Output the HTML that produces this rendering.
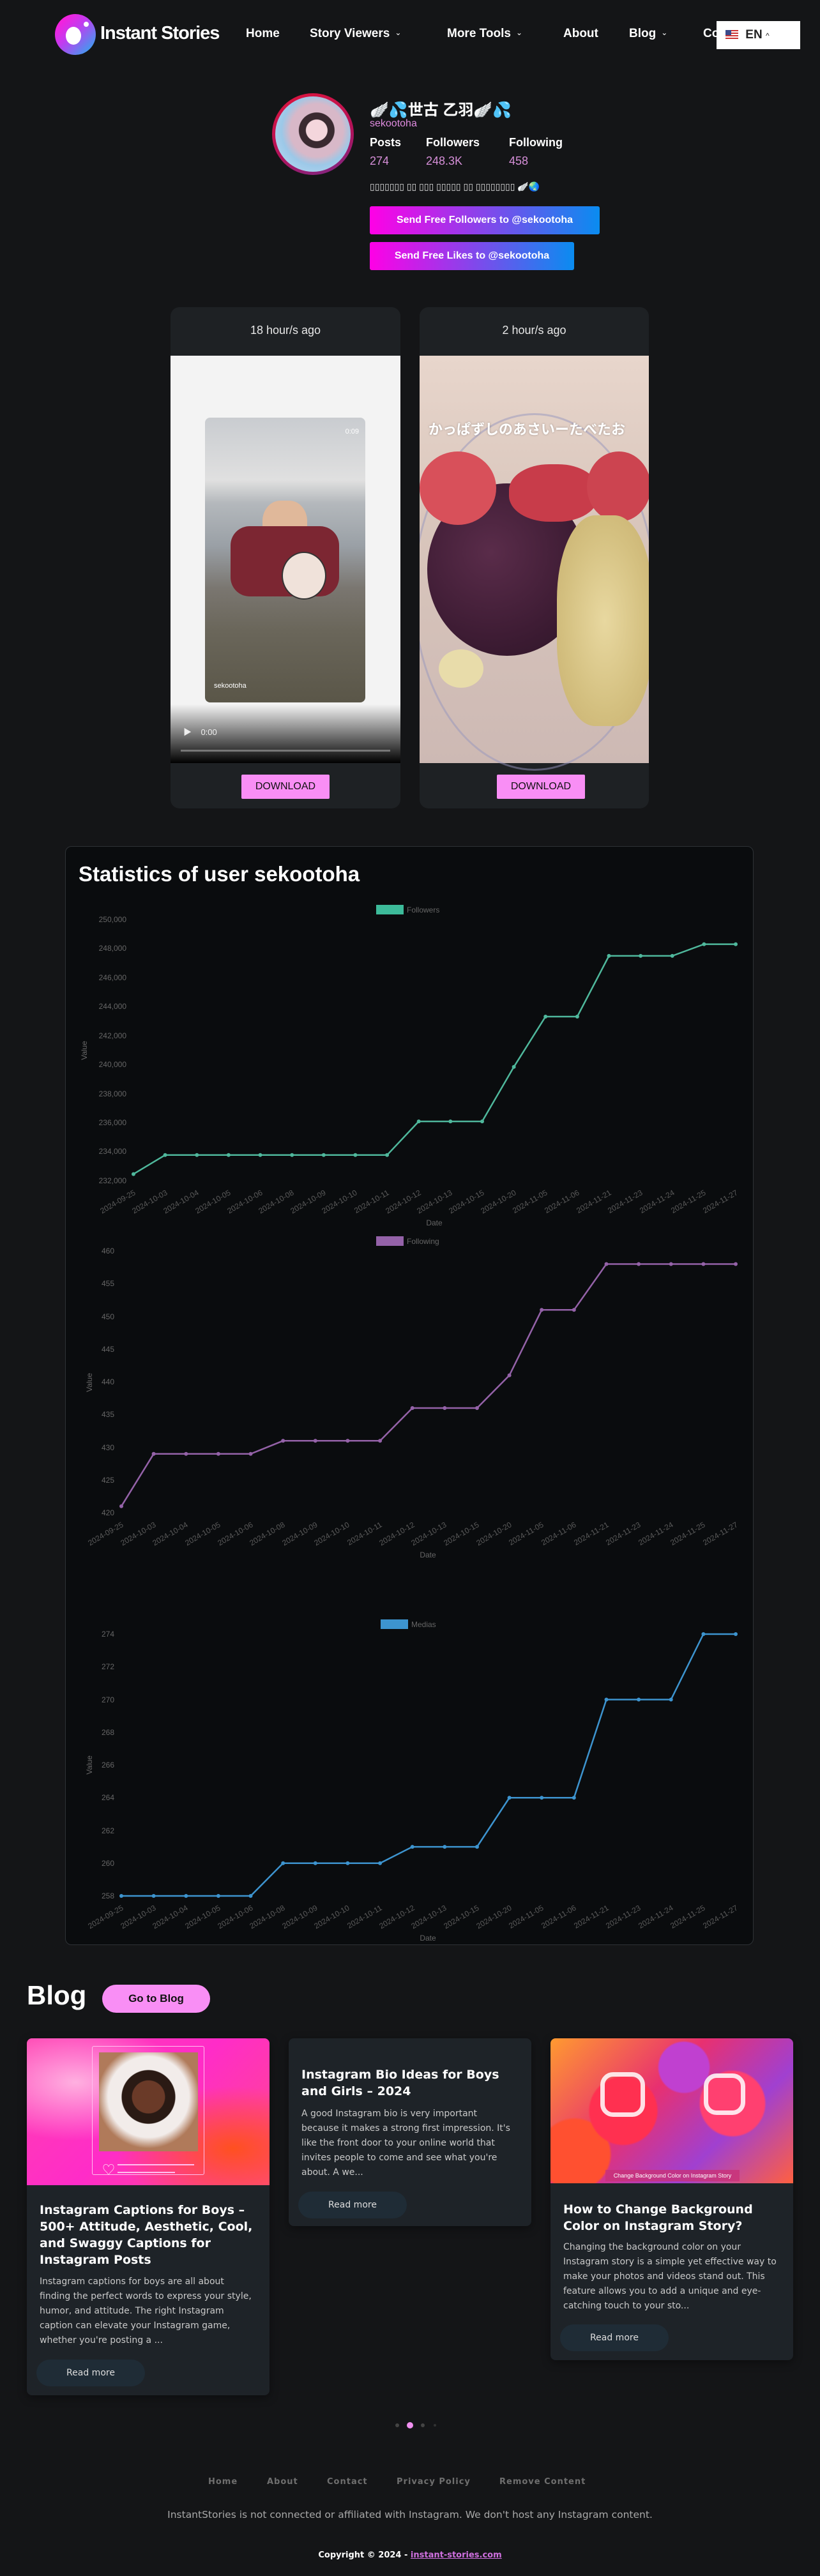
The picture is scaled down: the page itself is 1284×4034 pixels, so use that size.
<!DOCTYPE html>
<html><head><meta charset="utf-8">
<style>
*{margin:0;padding:0;box-sizing:border-box}
body{width:1284px;height:4034px;background:#141517;position:relative;overflow:hidden;font-family:"Liberation Sans","Noto Sans CJK JP",sans-serif;color:#fff}
.a{position:absolute}
.nav{font-weight:bold;font-size:19px;color:#fff;top:42px;white-space:nowrap}
.chev{font-size:12px;font-weight:normal;margin-left:8px;vertical-align:3px}
.card{background:#1e2124;border-radius:14px}
.dl{background:#f98ef5;color:#111;font-size:16px;text-align:center;line-height:38px;border-radius:2px}
.bc{background:#1e2328;border-radius:8px;box-shadow:0 4px 14px rgba(0,0,0,.4)}
.bt{font-family:"DejaVu Sans",sans-serif;font-weight:bold;font-size:19px;line-height:26px;color:#fff}
.bx{font-family:"DejaVu Sans",sans-serif;font-size:14px;line-height:23px;color:#c9c9c9}
.rm{font-family:"DejaVu Sans",sans-serif;background:#1f2c36;border-radius:21px;color:#ddd;font-size:14px;text-align:center;line-height:42px;width:170px;height:42px}
.fl{font-family:"DejaVu Sans",sans-serif;font-weight:bold;font-size:13px;color:#6f6f6f;letter-spacing:1px;top:3879px}
</style></head><body>

<!-- header -->
<div class="a" style="left:86px;top:22px;width:64px;height:64px;border-radius:50%;background:linear-gradient(135deg,#ff1ad9 10%,#c03cf0 45%,#3aa0f0 90%)"></div>
<div class="a" style="left:103px;top:42px;width:24px;height:28px;border-radius:50%;background:#fff"></div>
<div class="a" style="left:131px;top:34px;width:8px;height:8px;border-radius:50%;background:#fff"></div>
<div class="a" style="left:157px;top:36px;font-size:29px;font-weight:bold;letter-spacing:-1px;color:#fff">Instant Stories</div>
<div class="a nav" style="left:385px">Home</div>
<div class="a nav" style="left:485px">Story Viewers<span class="chev">&#8964;</span></div>
<div class="a nav" style="left:700px">More Tools<span class="chev">&#8964;</span></div>
<div class="a nav" style="left:882px">About</div>
<div class="a nav" style="left:985px">Blog<span class="chev">&#8964;</span></div>
<div class="a nav" style="left:1101px">Co</div>
<div class="a" style="left:1122px;top:33px;width:131px;height:44px;background:#fff;color:#222;font-weight:bold;font-size:19px;line-height:44px">
 <span style="display:inline-block;width:20px;height:14px;margin-left:14px;vertical-align:-1px;background:repeating-linear-gradient(#c33 0 2px,#fff 2px 4px);position:relative"><span style="position:absolute;left:0;top:0;width:9px;height:8px;background:#3b4a8a"></span></span>
 <span style="margin-left:6px">EN</span> <span style="font-size:12px;font-weight:normal">^</span></div>

<!-- profile -->
<div class="a" style="left:426px;top:146px;width:128px;height:128px;border-radius:50%;background:linear-gradient(160deg,#e0143c,#b0125a 60%,#7a2a8a)"></div>
<div class="a" style="left:431px;top:151px;width:118px;height:118px;border-radius:50%;background:radial-gradient(circle at 55% 45%,#f4d6dc 0 18%,#3a2a30 19% 30%,#d8b8c8 31% 45%,#9cc8e8 60%,#c0e0f4 100%)"></div>
<div class="a" style="left:579px;top:152px;font-size:24px;font-weight:bold;white-space:nowrap">🪽💦世古 乙羽🪽💦</div>
<div class="a" style="left:579px;top:185px;font-size:16px;color:#e08ce0">sekootoha</div>
<div class="a" style="left:579px;top:213px;font-size:18px;font-weight:bold">Posts</div>
<div class="a" style="left:667px;top:213px;font-size:18px;font-weight:bold">Followers</div>
<div class="a" style="left:797px;top:213px;font-size:18px;font-weight:bold">Following</div>
<div class="a" style="left:579px;top:242px;font-size:18px;color:#d68fd8">274</div>
<div class="a" style="left:667px;top:242px;font-size:18px;color:#d68fd8">248.3K</div>
<div class="a" style="left:797px;top:242px;font-size:18px;color:#d68fd8">458</div>
<div class="a" style="left:579px;top:284px;font-size:14px;color:#ddd;white-space:nowrap">▯▯▯▯▯▯▯ ▯▯ ▯▯▯ ▯▯▯▯▯ ▯▯ ▯▯▯▯▯▯▯▯ 🪽🌏</div>
<div class="a" style="left:579px;top:323px;width:360px;height:44px;border-radius:3px;background:linear-gradient(90deg,#ff00e6,#0a8cf0);font-weight:bold;font-size:16px;line-height:44px;text-align:center">Send Free Followers to @sekootoha</div>
<div class="a" style="left:579px;top:379px;width:320px;height:44px;border-radius:3px;background:linear-gradient(90deg,#ff00e6,#0a8cf0);font-weight:bold;font-size:16px;line-height:44px;text-align:center">Send Free Likes to @sekootoha</div>

<!-- stories -->
<div class="a card" style="left:267px;top:481px;width:360px;height:785px;overflow:hidden">
 <div style="height:76px;line-height:72px;text-align:center;font-size:18px;color:#e8e8e8">18 hour/s ago</div>
 <div style="position:relative;height:638px;background:#f3f3f3">
  <div class="a" style="left:54px;top:97px;width:251px;height:446px;border-radius:8px;background:linear-gradient(180deg,#c9ccd0 0,#e0e0e0 22%,#b4b8bc 30%,#9aa0a6 45%,#7a7670 60%,#6a665a 75%,#5a5648 100%);overflow:hidden">
   <div class="a" style="left:90px;top:130px;width:70px;height:80px;border-radius:40%;background:#e0b89a"></div>
   <div class="a" style="left:40px;top:170px;width:170px;height:110px;border-radius:30px;background:#7c2632"></div>
   <div class="a" style="left:120px;top:210px;width:70px;height:75px;border-radius:50%;background:#f0e2da;border:2px solid #333"></div>
   <div class="a" style="left:14px;top:414px;font-size:11px;color:#fff">sekootoha</div>
   <div class="a" style="right:10px;top:16px;font-size:11px;color:#fff">0:09</div>
  </div>
  <div class="a" style="left:0;bottom:0;width:360px;height:92px;background:linear-gradient(180deg,rgba(0,0,0,0),#000)"></div>
  <div class="a" style="left:20px;bottom:40px;font-size:13px;color:#eee">&#9654;&nbsp;&nbsp;&nbsp;&nbsp;0:00</div>
  <div class="a" style="left:16px;bottom:18px;width:328px;height:3px;background:#777"></div>
 </div>
 <div class="a dl" style="left:111px;top:732px;width:138px">DOWNLOAD</div>
</div>
<div class="a card" style="left:657px;top:481px;width:359px;height:785px;overflow:hidden">
 <div style="height:76px;line-height:72px;text-align:center;font-size:18px;color:#e8e8e8">2 hour/s ago</div>
 <div style="position:relative;height:638px;background:linear-gradient(180deg,#e8d6cc,#d9c6bc 40%,#cdb9b4)">
  <div class="a" style="left:-10px;top:90px;width:380px;height:560px;border-radius:50%;border:3px solid rgba(150,150,190,.5)"></div>
  <div class="a" style="left:12px;top:200px;width:250px;height:270px;border-radius:50%;background:radial-gradient(circle at 40% 40%,#5a2c4a,#3e1c34 60%,#2c1426)"></div>
  <div class="a" style="left:0;top:150px;width:120px;height:115px;border-radius:50%;background:#d8505a"></div>
  <div class="a" style="left:140px;top:170px;width:140px;height:90px;border-radius:45%;background:#c83c4a"></div>
  <div class="a" style="left:262px;top:150px;width:100px;height:110px;border-radius:50%;background:#cc4450"></div>
  <div class="a" style="left:215px;top:250px;width:150px;height:330px;border-radius:40%;background:radial-gradient(#e8d8a0,#d4c080 60%,#c8b070)"></div>
  <div class="a" style="left:30px;top:460px;width:70px;height:60px;border-radius:50%;background:#e8dcaa"></div>
  <div class="a" style="left:14px;top:98px;font-size:22px;font-weight:bold;color:#fff;white-space:nowrap;text-shadow:0 0 3px rgba(0,0,0,.3)">かっぱずしのあさいーたべたお</div>
 </div>
 <div class="a dl" style="left:121px;top:732px;width:138px">DOWNLOAD</div>
</div>

<!-- stats -->
<div class="a" style="left:102px;top:1325px;width:1078px;height:1721px;background:#0a0c0e;border:1px solid #2e3236;border-radius:10px"></div>
<div class="a" style="left:123px;top:1350px;font-size:33px;font-weight:bold;color:#fff">Statistics of user sekootoha</div>

<svg class="a" style="left:0;top:0" width="1284" height="4034" font-family="Liberation Sans, sans-serif">
 <g font-size="12" fill="#666">
  <rect x="589" y="1417" width="43" height="15" fill="#3dbb9a"/>
  <text x="637" y="1429">Followers</text>
  <g text-anchor="end">
   <text x="198" y="1444">250,000</text><text x="198" y="1489">248,000</text><text x="198" y="1535">246,000</text><text x="198" y="1580">244,000</text><text x="198" y="1626">242,000</text><text x="198" y="1671">240,000</text><text x="198" y="1717">238,000</text><text x="198" y="1762">236,000</text><text x="198" y="1807">234,000</text><text x="198" y="1853">232,000</text>
  </g>
  <text x="680" y="1919" text-anchor="middle">Date</text>
  <text transform="translate(136,1645) rotate(-90)" text-anchor="middle">Value</text>
  <rect x="589" y="1936" width="43" height="15" fill="#9462a8"/>
  <text x="637" y="1948">Following</text>
  <g text-anchor="end">
   <text x="179" y="1963">460</text><text x="179" y="2014">455</text><text x="179" y="2066">450</text><text x="179" y="2117">445</text><text x="179" y="2168">440</text><text x="179" y="2219">435</text><text x="179" y="2271">430</text><text x="179" y="2322">425</text><text x="179" y="2373">420</text>
  </g>
  <text x="670" y="2439" text-anchor="middle">Date</text>
  <text transform="translate(144,2165) rotate(-90)" text-anchor="middle">Value</text>
  <rect x="596" y="2536" width="43" height="15" fill="#3d94cf"/>
  <text x="644" y="2548">Medias</text>
  <g text-anchor="end">
   <text x="179" y="2563">274</text><text x="179" y="2614">272</text><text x="179" y="2666">270</text><text x="179" y="2717">268</text><text x="179" y="2768">266</text><text x="179" y="2819">264</text><text x="179" y="2871">262</text><text x="179" y="2922">260</text><text x="179" y="2973">258</text>
  </g>
  <text x="670" y="3039" text-anchor="middle">Date</text>
  <text transform="translate(144,2764) rotate(-90)" text-anchor="middle">Value</text>
 </g>
 <g font-size="12" fill="#5a5a5a" text-anchor="end">
  <text transform="translate(213,1870) rotate(-30)">2024-09-25</text>
  <text transform="translate(263,1870) rotate(-30)">2024-10-03</text>
  <text transform="translate(312,1870) rotate(-30)">2024-10-04</text>
  <text transform="translate(362,1870) rotate(-30)">2024-10-05</text>
  <text transform="translate(412,1870) rotate(-30)">2024-10-06</text>
  <text transform="translate(461,1870) rotate(-30)">2024-10-08</text>
  <text transform="translate(511,1870) rotate(-30)">2024-10-09</text>
  <text transform="translate(560,1870) rotate(-30)">2024-10-10</text>
  <text transform="translate(610,1870) rotate(-30)">2024-10-11</text>
  <text transform="translate(660,1870) rotate(-30)">2024-10-12</text>
  <text transform="translate(709,1870) rotate(-30)">2024-10-13</text>
  <text transform="translate(759,1870) rotate(-30)">2024-10-15</text>
  <text transform="translate(809,1870) rotate(-30)">2024-10-20</text>
  <text transform="translate(858,1870) rotate(-30)">2024-11-05</text>
  <text transform="translate(908,1870) rotate(-30)">2024-11-06</text>
  <text transform="translate(958,1870) rotate(-30)">2024-11-21</text>
  <text transform="translate(1007,1870) rotate(-30)">2024-11-23</text>
  <text transform="translate(1057,1870) rotate(-30)">2024-11-24</text>
  <text transform="translate(1106,1870) rotate(-30)">2024-11-25</text>
  <text transform="translate(1156,1870) rotate(-30)">2024-11-27</text>
 </g>
 <g font-size="12" fill="#5a5a5a" text-anchor="end">
  <text transform="translate(194,2390) rotate(-30)">2024-09-25</text>
  <text transform="translate(245,2390) rotate(-30)">2024-10-03</text>
  <text transform="translate(295,2390) rotate(-30)">2024-10-04</text>
  <text transform="translate(346,2390) rotate(-30)">2024-10-05</text>
  <text transform="translate(397,2390) rotate(-30)">2024-10-06</text>
  <text transform="translate(447,2390) rotate(-30)">2024-10-08</text>
  <text transform="translate(498,2390) rotate(-30)">2024-10-09</text>
  <text transform="translate(548,2390) rotate(-30)">2024-10-10</text>
  <text transform="translate(599,2390) rotate(-30)">2024-10-11</text>
  <text transform="translate(650,2390) rotate(-30)">2024-10-12</text>
  <text transform="translate(700,2390) rotate(-30)">2024-10-13</text>
  <text transform="translate(751,2390) rotate(-30)">2024-10-15</text>
  <text transform="translate(802,2390) rotate(-30)">2024-10-20</text>
  <text transform="translate(852,2390) rotate(-30)">2024-11-05</text>
  <text transform="translate(903,2390) rotate(-30)">2024-11-06</text>
  <text transform="translate(954,2390) rotate(-30)">2024-11-21</text>
  <text transform="translate(1004,2390) rotate(-30)">2024-11-23</text>
  <text transform="translate(1055,2390) rotate(-30)">2024-11-24</text>
  <text transform="translate(1105,2390) rotate(-30)">2024-11-25</text>
  <text transform="translate(1156,2390) rotate(-30)">2024-11-27</text>
 </g>
 <g font-size="12" fill="#5a5a5a" text-anchor="end">
  <text transform="translate(194,2990) rotate(-30)">2024-09-25</text>
  <text transform="translate(245,2990) rotate(-30)">2024-10-03</text>
  <text transform="translate(295,2990) rotate(-30)">2024-10-04</text>
  <text transform="translate(346,2990) rotate(-30)">2024-10-05</text>
  <text transform="translate(397,2990) rotate(-30)">2024-10-06</text>
  <text transform="translate(447,2990) rotate(-30)">2024-10-08</text>
  <text transform="translate(498,2990) rotate(-30)">2024-10-09</text>
  <text transform="translate(548,2990) rotate(-30)">2024-10-10</text>
  <text transform="translate(599,2990) rotate(-30)">2024-10-11</text>
  <text transform="translate(650,2990) rotate(-30)">2024-10-12</text>
  <text transform="translate(700,2990) rotate(-30)">2024-10-13</text>
  <text transform="translate(751,2990) rotate(-30)">2024-10-15</text>
  <text transform="translate(802,2990) rotate(-30)">2024-10-20</text>
  <text transform="translate(852,2990) rotate(-30)">2024-11-05</text>
  <text transform="translate(903,2990) rotate(-30)">2024-11-06</text>
  <text transform="translate(954,2990) rotate(-30)">2024-11-21</text>
  <text transform="translate(1004,2990) rotate(-30)">2024-11-23</text>
  <text transform="translate(1055,2990) rotate(-30)">2024-11-24</text>
  <text transform="translate(1105,2990) rotate(-30)">2024-11-25</text>
  <text transform="translate(1156,2990) rotate(-30)">2024-11-27</text>
 </g>
 <polyline fill="none" stroke="#4fb89c" stroke-width="2.5" points="209,1838.6 258.6,1808.8 308.3,1808.8 357.9,1808.8 407.5,1808.8 457.2,1808.8 506.8,1808.8 556.4,1808.8 606.1,1808.8 655.7,1756.1 705.3,1756.1 755,1756.1 804.6,1670.8 854.2,1592 903.9,1592 953.5,1496.9 1003.1,1496.9 1052.7,1496.9 1102.4,1478.6 1152,1478.6"/>
 <g fill="#4fb89c">
  <circle cx="209" cy="1838.6" r="3"/><circle cx="258.6" cy="1808.8" r="3"/><circle cx="308.3" cy="1808.8" r="3"/><circle cx="357.9" cy="1808.8" r="3"/><circle cx="407.5" cy="1808.8" r="3"/><circle cx="457.2" cy="1808.8" r="3"/><circle cx="506.8" cy="1808.8" r="3"/><circle cx="556.4" cy="1808.8" r="3"/><circle cx="606.1" cy="1808.8" r="3"/><circle cx="655.7" cy="1756.1" r="3"/><circle cx="705.3" cy="1756.1" r="3"/><circle cx="755" cy="1756.1" r="3"/><circle cx="804.6" cy="1670.8" r="3"/><circle cx="854.2" cy="1592" r="3"/><circle cx="903.9" cy="1592" r="3"/><circle cx="953.5" cy="1496.9" r="3"/><circle cx="1003.1" cy="1496.9" r="3"/><circle cx="1052.7" cy="1496.9" r="3"/><circle cx="1102.4" cy="1478.6" r="3"/><circle cx="1152" cy="1478.6" r="3"/>
 </g>
 <polyline fill="none" stroke="#9462a8" stroke-width="2.5" points="190,2358.8 240.6,2276.8 291.3,2276.8 341.9,2276.8 392.5,2276.8 443.2,2256.3 493.8,2256.3 544.4,2256.3 595.1,2256.3 645.7,2205 696.3,2205 747,2205 797.6,2153.8 848.2,2051.3 898.8,2051.3 949.5,1979.5 1000.1,1979.5 1050.7,1979.5 1101.4,1979.5 1152,1979.5"/>
 <g fill="#9462a8">
  <circle cx="190" cy="2358.8" r="3"/><circle cx="240.6" cy="2276.8" r="3"/><circle cx="291.3" cy="2276.8" r="3"/><circle cx="341.9" cy="2276.8" r="3"/><circle cx="392.5" cy="2276.8" r="3"/><circle cx="443.2" cy="2256.3" r="3"/><circle cx="493.8" cy="2256.3" r="3"/><circle cx="544.4" cy="2256.3" r="3"/><circle cx="595.1" cy="2256.3" r="3"/><circle cx="645.7" cy="2205" r="3"/><circle cx="696.3" cy="2205" r="3"/><circle cx="747" cy="2205" r="3"/><circle cx="797.6" cy="2153.8" r="3"/><circle cx="848.2" cy="2051.3" r="3"/><circle cx="898.8" cy="2051.3" r="3"/><circle cx="949.5" cy="1979.5" r="3"/><circle cx="1000.1" cy="1979.5" r="3"/><circle cx="1050.7" cy="1979.5" r="3"/><circle cx="1101.4" cy="1979.5" r="3"/><circle cx="1152" cy="1979.5" r="3"/>
 </g>
 <polyline fill="none" stroke="#3d94cf" stroke-width="2.5" points="190,2969 240.6,2969 291.3,2969 341.9,2969 392.5,2969 443.2,2917.8 493.8,2917.8 544.4,2917.8 595.1,2917.8 645.7,2892.1 696.3,2892.1 747,2892.1 797.6,2815.3 848.2,2815.3 898.8,2815.3 949.5,2661.5 1000.1,2661.5 1050.7,2661.5 1101.4,2559 1152,2559"/>
 <g fill="#3d94cf">
  <circle cx="190" cy="2969" r="3"/><circle cx="240.6" cy="2969" r="3"/><circle cx="291.3" cy="2969" r="3"/><circle cx="341.9" cy="2969" r="3"/><circle cx="392.5" cy="2969" r="3"/><circle cx="443.2" cy="2917.8" r="3"/><circle cx="493.8" cy="2917.8" r="3"/><circle cx="544.4" cy="2917.8" r="3"/><circle cx="595.1" cy="2917.8" r="3"/><circle cx="645.7" cy="2892.1" r="3"/><circle cx="696.3" cy="2892.1" r="3"/><circle cx="747" cy="2892.1" r="3"/><circle cx="797.6" cy="2815.3" r="3"/><circle cx="848.2" cy="2815.3" r="3"/><circle cx="898.8" cy="2815.3" r="3"/><circle cx="949.5" cy="2661.5" r="3"/><circle cx="1000.1" cy="2661.5" r="3"/><circle cx="1050.7" cy="2661.5" r="3"/><circle cx="1101.4" cy="2559" r="3"/><circle cx="1152" cy="2559" r="3"/>
 </g>
</svg>

<!-- blog -->
<div class="a" style="left:42px;top:3101px;font-size:42px;font-weight:bold;color:#fff">Blog</div>
<div class="a" style="left:160px;top:3108px;width:169px;height:44px;border-radius:22px;background:#f98ef5;color:#111;font-weight:bold;font-size:17px;line-height:44px;text-align:center">Go to Blog</div>

<div class="a bc" style="left:42px;top:3192px;width:380px;height:559px;overflow:hidden">
 <div style="position:relative;height:230px;background:radial-gradient(ellipse at 20% 30%,#ffb0e0,transparent 40%),radial-gradient(ellipse at 85% 75%,#ff5020,transparent 40%),linear-gradient(135deg,#ff40b0,#ff2cc8 50%,#ff4a8a)">
  <div class="a" style="left:102px;top:12px;width:176px;height:202px;border:1.5px solid #ffc0f0;border-radius:3px"></div>
  <div class="a" style="left:113px;top:22px;width:155px;height:155px;background:radial-gradient(circle at 50% 45%,#6a3a28 0 22%,#2a1a14 23% 36%,#f2ecea 37% 55%,#b07a5a 70%)"></div>
  <div class="a" style="left:118px;top:190px;font-size:20px;color:#ffd0f0">♡</div>
  <div class="a" style="left:142px;top:197px;width:120px;height:1.5px;background:#ffc0f0"></div>
  <div class="a" style="left:142px;top:209px;width:90px;height:1.5px;background:#ffc0f0"></div>
 </div>
 <div class="a bt" style="left:20px;top:256px;width:350px">Instagram Captions for Boys – 500+ Attitude, Aesthetic, Cool, and Swaggy Captions for Instagram Posts</div>
 <div class="a bx" style="left:20px;top:370px;width:335px">Instagram captions for boys are all about finding the perfect words to express your style, humor, and attitude. The right Instagram caption can elevate your Instagram game, whether you're posting a ...</div>
 <div class="a rm" style="left:15px;top:503px">Read more</div>
</div>

<div class="a bc" style="left:452px;top:3192px;width:380px;height:294px">
 <div class="a bt" style="left:20px;top:44px;width:350px">Instagram Bio Ideas for Boys and Girls – 2024</div>
 <div class="a bx" style="left:20px;top:107px;width:335px">A good Instagram bio is very important because it makes a strong first impression. It's like the front door to your online world that invites people to come and see what you're about. A we...</div>
 <div class="a rm" style="left:15px;top:240px">Read more</div>
</div>

<div class="a bc" style="left:862px;top:3192px;width:380px;height:504px;overflow:hidden">
 <div style="position:relative;height:227px;background:radial-gradient(circle at 30% 50%,#ff3050 0 18%,transparent 19%),radial-gradient(circle at 75% 45%,#ff4070 0 16%,transparent 17%),radial-gradient(circle at 10% 80%,#ff5030 0 14%,transparent 15%),radial-gradient(circle at 55% 20%,#c040d0 0 14%,transparent 15%),linear-gradient(135deg,#ff9a30,#e83070 40%,#a040d0 70%,#ff6040)">
  <div class="a" style="left:78px;top:53px;width:70px;height:70px;border:7px solid #fff;border-radius:20px;opacity:.85"></div>
  <div class="a" style="left:240px;top:55px;width:65px;height:65px;border:7px solid #fff;border-radius:20px;opacity:.85"></div>
  <div class="a" style="left:86px;top:206px;width:210px;height:18px;background:rgba(200,50,120,.8);font-size:9px;line-height:18px;text-align:center;color:#fff">Change Background Color on Instagram Story</div>
 </div>
 <div class="a bt" style="left:20px;top:255px;width:350px">How to Change Background Color on Instagram Story?</div>
 <div class="a bx" style="left:20px;top:316px;width:345px">Changing the background color on your Instagram story is a simple yet effective way to make your photos and videos stand out. This feature allows you to add a unique and eye-catching touch to your sto...</div>
 <div class="a rm" style="left:15px;top:448px">Read more</div>
</div>

<!-- dots -->
<div class="a" style="left:619px;top:3795px;width:6px;height:6px;border-radius:50%;background:#444"></div>
<div class="a" style="left:637px;top:3793px;width:10px;height:10px;border-radius:50%;background:#f090f0"></div>
<div class="a" style="left:659px;top:3795px;width:6px;height:6px;border-radius:50%;background:#444"></div>
<div class="a" style="left:679px;top:3796px;width:4px;height:4px;border-radius:50%;background:#333"></div>

<!-- footer -->
<div class="a fl" style="left:326px">Home</div>
<div class="a fl" style="left:418px">About</div>
<div class="a fl" style="left:512px">Contact</div>
<div class="a fl" style="left:621px">Privacy Policy</div>
<div class="a fl" style="left:782px">Remove Content</div>
<div class="a" style="left:0;width:1284px;top:3929px;text-align:center;font-family:'DejaVu Sans',sans-serif;font-size:15.5px;color:#a8a8a8">InstantStories is not connected or affiliated with Instagram. We don't host any Instagram content.</div>
<div class="a" style="left:0;width:1284px;top:3994px;text-align:center;font-family:'DejaVu Sans',sans-serif;font-size:13px;font-weight:bold;color:#fff">Copyright © 2024 - <span style="color:#d070e0;text-decoration:underline">instant-stories.com</span></div>
</body></html>
